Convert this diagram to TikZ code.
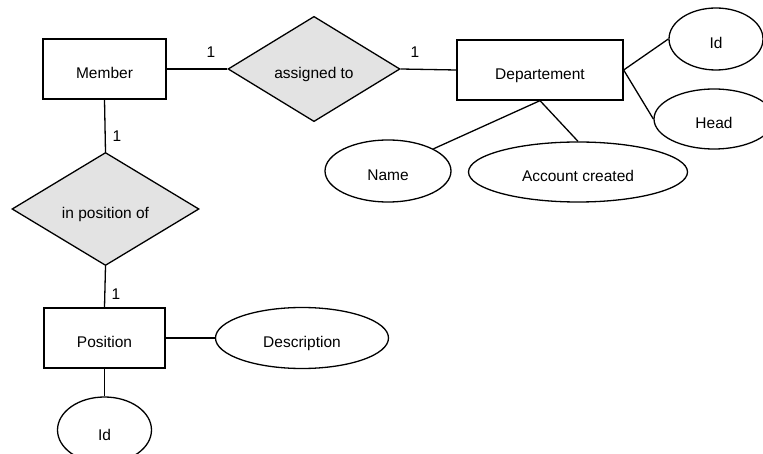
\documentclass[tikz,border=0pt]{standalone}
\usepackage{fontspec}
\setmainfont{Liberation Sans}
\usetikzlibrary{shapes.geometric}
\definecolor{relgray}{HTML}{E3E3E3}
\begin{document}
\begin{tikzpicture}[x=1pt,y=-1pt,
  every node/.style={font=\fontsize{15.5}{18}\selectfont},
  shaped/.style={draw, line width=1.3pt, inner sep=0pt, text height=23pt, text depth=3pt},
  entity/.style={shaped, rectangle},
  relation/.style={shaped, diamond, fill=relgray},
  attribute/.style={shaped, ellipse},
  link/.style={line width=1.3pt},
  card/.style={inner sep=0pt}]
\clip (0,0) rectangle (763,454);

% entities
\node[entity, minimum width=123pt, minimum height=60pt] (member) at (104.5,69) {Member};
\node[entity, minimum width=166pt, minimum height=60pt] (dept) at (540,70) {Departement};
\node[entity, minimum width=121pt, minimum height=60pt] (position) at (104.5,338) {Position};

% relationships
\node[relation, minimum width=172pt, minimum height=104pt] (assigned) at (314,69) {assigned to};
\node[relation, minimum width=187pt, minimum height=112pt] (inpos) at (105.5,209) {in position of};

% attributes
\node[attribute, minimum width=94pt, minimum height=62pt] (deptid) at (716,39) {Id};
\node[attribute, minimum width=120pt, minimum height=60pt] (head) at (714,119) {Head};
\node[attribute, minimum width=126pt, minimum height=62pt] (name) at (388,171) {Name};
\node[attribute, minimum width=219pt, minimum height=60pt] (account) at (578,172) {Account created};
\node[attribute, minimum width=173pt, minimum height=61pt] (descr) at (302,338) {Description};
\node[attribute, minimum width=94pt, minimum height=66pt] (posid) at (104.5,430) {Id};

% connectors
\draw[link] (member.east) -- (assigned.west);
\draw[link] (assigned.east) -- (dept.west);
\draw[link] (member.south) -- (inpos.north);
\draw[link] (inpos.south) -- (position.north);
\draw[link] (position.east) -- (descr.west);
\draw[link] (position.south) -- (posid.north);
\draw[link] (dept.east) -- (deptid.west);
\draw[link] (dept.east) -- (head.west);
\draw[link] (dept.south) -- (name.26);
\draw[link] (dept.south) -- (account.north);

% cardinalities
\node[card] (c1) at (211,52) {1};
\node[card] (c2) at (415,52) {1};
\node[card] (c3) at (117,136) {1};
\node[card] (c4) at (116,294) {1};
\end{tikzpicture}
\end{document}
